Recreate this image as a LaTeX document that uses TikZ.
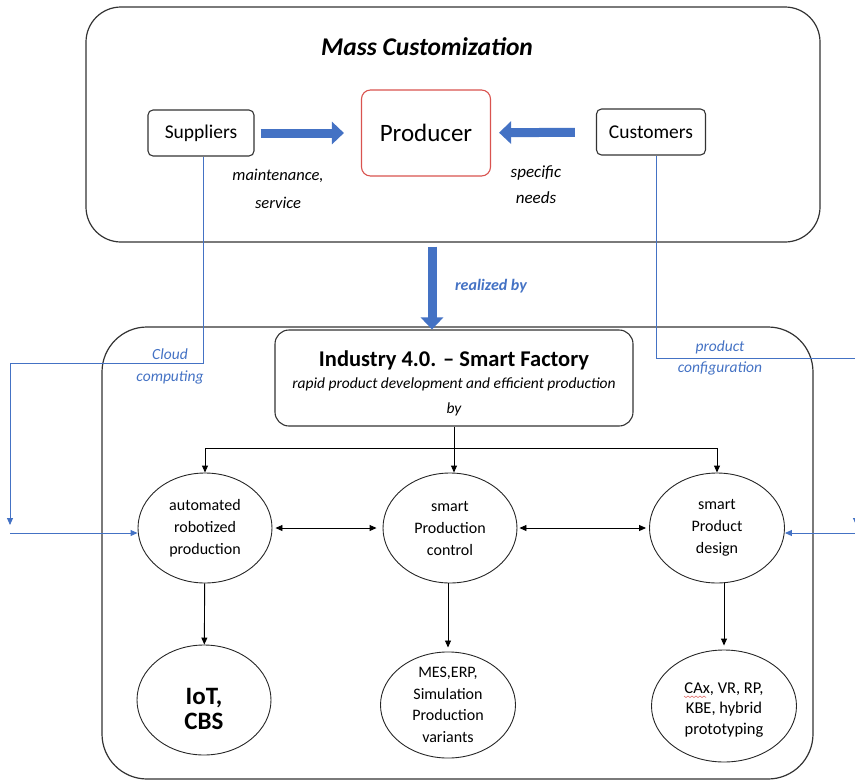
\documentclass[tikz,border=0pt]{standalone}
\usepackage{fontspec}
\setmainfont{Carlito}
\usetikzlibrary{arrows.meta,positioning,calc,shapes.geometric}
\definecolor{officeblue}{HTML}{4472C4}
\definecolor{producerred}{HTML}{D9534F}

\begin{document}
\begin{tikzpicture}[x=1pt,y=-1pt,
	every node/.style={font=\fontsize{16}{22}\selectfont},
	smallbox/.style={draw=black!80,rounded corners=5pt,line width=1.1pt,minimum width=106pt,minimum height=46pt,font=\fontsize{19.5}{22}\selectfont},
	roundel/.style={draw=black!85,ellipse,line width=0.9pt,minimum width=134pt,minimum height=110pt,inner sep=0pt,align=center},
	fatarrow/.style={draw=officeblue,line width=9pt,-{Triangle[length=12pt,width=22pt]}},
	bluelink/.style={draw=officeblue,line width=0.9pt,-{Triangle[length=7pt,width=6pt]}},
	bluenote/.style={text=officeblue,font=\itshape\fontsize{15.5}{22}\selectfont,align=center},
	link/.style={draw=black,line width=0.9pt,-{Triangle[length=7pt,width=6pt]}},
	dlink/.style={draw=black,line width=0.9pt,{Triangle[length=7pt,width=6pt]}-{Triangle[length=7pt,width=6pt]}}
	]
		\def\xAuto{205}
		\def\xCtrl{450}
		\def\xDesign{717}
		\def\yCircle{528}
		\def\xCloud{10}
		\def\xConfig{856}

\useasboundingbox (0,0) rectangle (855,782);

% frames
\draw[black!80,line width=1.2pt,rounded corners=35pt] (86,7) rectangle (820,242);
\draw[black!80,line width=1.2pt,rounded corners=45pt] (102,327) rectangle (813,779);

% mass customization
\node[font=\bfseries\itshape\fontsize{25.5}{30}\selectfont] (mc) at (427,47) {Mass Customization};
\node[smallbox] (sup) at (201,133) {Suppliers};
\node[smallbox,draw=producerred,rounded corners=9pt,minimum width=129pt,minimum height=86pt,font=\fontsize{25}{30}\selectfont] (prod) at (426,133) {Producer};
\node[smallbox,minimum width=109pt] (cus) at (651,132) {Customers};
\draw[fatarrow,shorten <=6pt,shorten >=17pt] (sup) -- (prod);
\draw[fatarrow,shorten <=21pt,shorten >=8pt] (cus) -- (prod);
\node[font=\itshape\fontsize{16.5}{28}\selectfont,align=center] (maint) at (278,189) {maintenance,\\service};
\node[font=\itshape\fontsize{17}{26}\selectfont,align=center] (needs) at (536,185) {specific\\needs};

% realized by
\node[inner sep=0pt] (realize) at (432,246) {};
\node[text=officeblue,font=\bfseries\itshape\fontsize{16}{18}\selectfont] (rlabel) at (491,286) {realized by};

% smart factory
\node[draw=black!80,rounded corners=14pt,line width=1.1pt,minimum width=358pt,minimum height=96pt,align=center,inner sep=0pt] (ind) at (454,378)
	{{\bfseries\fontsize{22.5}{24}\selectfont\rule{0pt}{26pt}Industry 4.0. -- Smart Factory}\\[0pt]
	 {\itshape\fontsize{15.5}{22}\selectfont rapid product development and efficient production}\\[3pt]
	 {\itshape\fontsize{15.5}{16}\selectfont by}};
\draw[fatarrow] (realize) -- (ind.north -| realize);

\node[roundel] (auto) at (\xAuto,\yCircle) {automated\\robotized\\production};
\node[roundel] (ctrl) at (\xCtrl,\yCircle) {smart\\Production\\control};
\node[roundel,minimum width=135pt] (design) at (\xDesign,\yCircle) {smart\\Product\\design};

\node[roundel,font=\bfseries\fontsize{25}{25}\selectfont] (iot) at (204,700) {\rule{0pt}{34pt}IoT,\\CBS};
\node[roundel,minimum width=135pt,minimum height=104pt,font=\fontsize{16}{21.5}\selectfont] (mes) at (448,705) {MES,ERP,\\Simulation\\Production\\variants};
\node[roundel,minimum width=145pt,minimum height=112pt,font=\fontsize{16.5}{20.5}\selectfont] (cax) at (724,706) {\rule{0pt}{18pt}CAx, VR, RP,\\KBE, hybrid\\prototyping};
\draw[producerred,line width=0.5pt] ($(cax.center)+(-40,-10)$) -- ++(2,1.5) -- ++(2,-1.5) -- ++(2,1.5) -- ++(2,-1.5) -- ++(2,1.5) -- ++(2,-1.5) -- ++(2,1.5) -- ++(2,-1.5) -- ++(2,1.5) -- ++(2,-1.5) -- ++(2,1.5);

% fork below the factory box
\coordinate (fork) at (454,448);
\draw[black,line width=0.9pt] (ind.south) -- (fork);
\draw[link] (fork) -| (auto.north);
\draw[link] (fork) -- (ctrl.north -| fork);
\draw[link] (fork) -| (design.north);

\draw[dlink,shorten >=6pt,shorten <=3pt] (auto) -- (ctrl);
\draw[dlink,shorten <=2pt,shorten >=3pt] (ctrl.east) -- (design.west);

\draw[link] (auto) -- (iot);
\draw[link,shorten >=4pt] (ctrl.south -| mes.north) -- (mes);
\draw[link,shorten >=4pt] (design.south -| cax.north) -- (cax);

% cloud computing / product configuration
\coordinate (cloudbend) at (\xCloud,363);
\coordinate (cloudend) at (\xCloud,525);
\coordinate (cloudin) at (\xCloud,533);
\draw[bluelink] ([xshift=2pt]sup.south) |- (cloudbend) -- (cloudend);
\draw[bluelink] (cloudin) -- (cloudin -| auto.west);
\node[bluenote,anchor=north] (cloud) at (170,345) {Cloud\\computing};

\coordinate (configbend) at (\xConfig,358);
\coordinate (configend) at (\xConfig,525);
\coordinate (configin) at (860,533);
\draw[bluelink] ([xshift=5pt]cus.south) |- (configbend) -- (configend);
\draw[bluelink] (configin) -- (configin -| design.east);
\node[bluenote,font=\itshape\fontsize{15.5}{21}\selectfont] (config) at (720,358) {product\\configuration};

\end{tikzpicture}
\end{document}
